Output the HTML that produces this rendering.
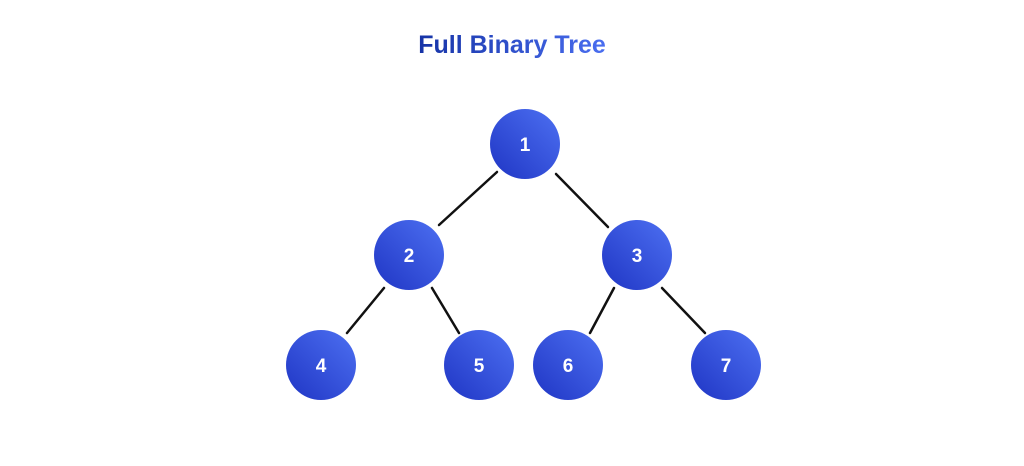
<!DOCTYPE html>
<html><head><style>
html,body{margin:0;padding:0;background:#fff;}
body{width:1024px;height:461px;overflow:hidden;font-family:"Liberation Sans",sans-serif;}
</style></head><body>
<svg width="1024" height="461" xmlns="http://www.w3.org/2000/svg">
<defs>
<linearGradient id="t" x1="0" x2="1"><stop offset="0" stop-color="#1633a6"/><stop offset="1" stop-color="#4a6ef0"/></linearGradient>
<linearGradient id="c" x1="0" y1="1" x2="1" y2="0"><stop offset="0" stop-color="#1f35c4"/><stop offset="1" stop-color="#4d70f2"/></linearGradient>
</defs>
<text x="512" y="53" text-anchor="middle" font-size="25" font-weight="bold" fill="url(#t)" font-family="Liberation Sans, sans-serif">Full Binary Tree</text>
<g stroke="#111" stroke-width="2.5" stroke-linecap="round">
<line x1="497" y1="172" x2="439" y2="225"/>
<line x1="556" y1="174" x2="608" y2="227"/>
<line x1="384" y1="288" x2="347" y2="333"/>
<line x1="432" y1="288" x2="459" y2="333"/>
<line x1="614" y1="288" x2="590" y2="333"/>
<line x1="662" y1="288" x2="705" y2="333"/>
</g>
<g fill="url(#c)">
<circle cx="525" cy="144" r="35"/>
<circle cx="409" cy="255" r="35"/>
<circle cx="637" cy="255" r="35"/>
<circle cx="321" cy="365" r="35"/>
<circle cx="479" cy="365" r="35"/>
<circle cx="568" cy="365" r="35"/>
<circle cx="726" cy="365" r="35"/>
</g>
<g fill="#fff" font-size="19" font-weight="bold" text-anchor="middle" font-family="Liberation Sans, sans-serif">
<text x="525" y="151">1</text>
<text x="409" y="262">2</text>
<text x="637" y="262">3</text>
<text x="321" y="372">4</text>
<text x="479" y="372">5</text>
<text x="568" y="372">6</text>
<text x="726" y="372">7</text>
</g>
</svg>
</body></html>
